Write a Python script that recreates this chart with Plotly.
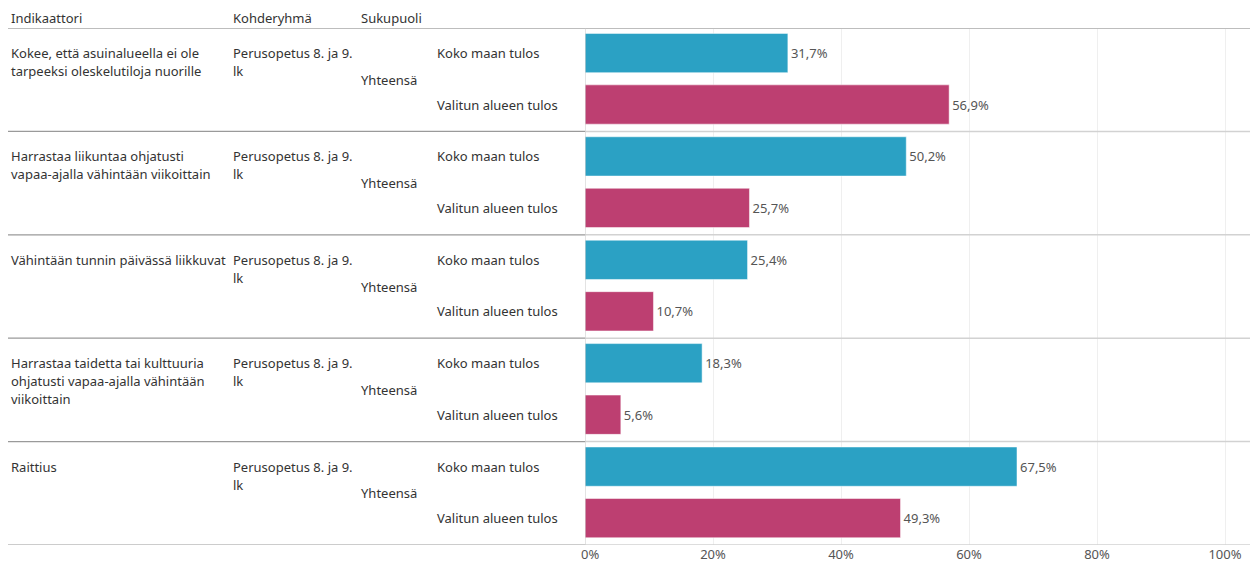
import plotly.graph_objects as go

indicators = [
    "Kokee, että asuinalueella ei ole\ntarpeeksi oleskelutiloja nuorille",
    "Harrastaa liikuntaa ohjatusti\nvapaa-ajalla vähintään viikoittain",
    "Vähintään tunnin päivässä liikkuvat",
    "Harrastaa taidetta tai kulttuuria\nohjatusti vapaa-ajalla vähintään\nviikoittain",
    "Raittius",
]
target_group = "Perusopetus 8. ja 9.\nlk"
gender = "Yhteensä"
series_names = ["Koko maan tulos", "Valitun alueen tulos"]
koko_maa = [31.7, 50.2, 25.4, 18.3, 67.5]
valittu_alue = [56.9, 25.7, 10.7, 5.6, 49.3]
headers = ["Indikaattori", "Kohderyhmä", "Sukupuoli"]
tick_values = [0, 20, 40, 60, 80, 100]

# page body has an 8px default margin; lay out in page pixels minus that offset
OFF = 8
W, H = 1258, 565
TOP, BOTTOM = 28 - OFF, 545 - OFF
X0 = 585 - OFF
X100 = 1225 - OFF
ROW_PX = (BOTTOM - TOP) / len(indicators)

BLUE = "#2BA1C4"
PINK = "#BD3F71"
TXT = "#333333"
FONT = "Noto Sans"
FS = 13

n = len(indicators)
offsets = [0.242, 0.74]

def px(xp):
    return (xp - OFF) / W

fig = go.Figure()
for s, (vals, col, off) in enumerate([(koko_maa, BLUE, offsets[0]), (valittu_alue, PINK, offsets[1])]):
    fig.add_trace(go.Bar(
        x=vals,
        y=[i + off for i in range(n)],
        orientation="h",
        width=0.38,
        marker=dict(color=col, line=dict(color="rgba(255,255,255,0.5)", width=1)),
        text=vals,
        texttemplate="%{x:.1f}%",
        textposition="outside",
        textfont=dict(family=FONT, size=FS, color="#555555"),
        cliponaxis=False,
        name=series_names[s],
        showlegend=False,
        hoverinfo="skip",
    ))

annotations = []
def ann(x_px, y, text, yref="y", size=FS, color=TXT):
    annotations.append(dict(
        x=px(x_px), xref="paper", y=y, yref=yref, text=text,
        xanchor="left", yanchor="middle", showarrow=False,
        font=dict(family=FONT, size=size, color=color),
    ))

LINE = 18 / ROW_PX
FIRST = 25 / ROW_PX
for i, ind in enumerate(indicators):
    for k, line in enumerate(ind.split("\n")):
        ann(9, i + FIRST + k * LINE, line)
    for k, line in enumerate(target_group.split("\n")):
        ann(231, i + FIRST + k * LINE, line)
    ann(359, i + 0.5, gender)
    ann(435, i + offsets[0], series_names[0])
    ann(435, i + offsets[1], series_names[1])

for hx, h in zip([9, 231, 359], headers):
    ann(hx, 1 - (18 - OFF) / H, h, yref="paper")

shapes = []
# header line
shapes.append(dict(type="line", xref="paper", yref="y", x0=px(5), x1=1, y0=0, y1=0,
                   line=dict(color="#bdbdbd", width=2), layer="above"))
# row separators: darker in the table part, lighter in the chart part
for i in range(1, n + 1):
    shapes.append(dict(type="line", xref="paper", yref="y", x0=px(5), x1=px(585), y0=i, y1=i,
                       line=dict(color="#9a9a9a", width=1.2), layer="above"))
    shapes.append(dict(type="line", xref="paper", yref="y", x0=px(585), x1=1, y0=i, y1=i,
                       line=dict(color="#d2d2d2", width=1.5), layer="above"))
# chart left edge and right edge
shapes.append(dict(type="line", xref="x", yref="y", x0=0, x1=0, y0=0, y1=n,
                   line=dict(color="#c8c8c8", width=1), layer="above"))
shapes.append(dict(type="line", xref="paper", yref="y", x0=px(1257), x1=px(1257), y0=0, y1=n,
                   line=dict(color="#d0d0d0", width=1)))

xmax = (W - X0) / ((X100 - X0) / 100)

fig.update_layout(
    template="none",
    width=W, height=H,
    margin=dict(l=0, r=0, t=0, b=0, pad=0, autoexpand=False),
    paper_bgcolor="white", plot_bgcolor="white",
    separators=", ",
    barmode="overlay",
    xaxis=dict(
        domain=[X0 / W, 1], range=[0, xmax],
        tickvals=tick_values,
        ticktext=["\u00a0\u00a0\u00a0" + "0%"] + [f"{v}%" for v in tick_values[1:]],
        showgrid=True, gridcolor="#efefef", gridwidth=1,
        zeroline=False, showline=False, ticks="",
        automargin=False,
        tickfont=dict(family=FONT, size=FS, color="#555555"),
        fixedrange=True,
    ),
    yaxis=dict(
        domain=[(H - BOTTOM) / H, 1 - TOP / H], range=[n, 0],
        showticklabels=False, showgrid=False, zeroline=False, showline=False,
        automargin=False,
        fixedrange=True,
    ),
    annotations=annotations,
    shapes=shapes,
)

fig.write_html("out.html")
